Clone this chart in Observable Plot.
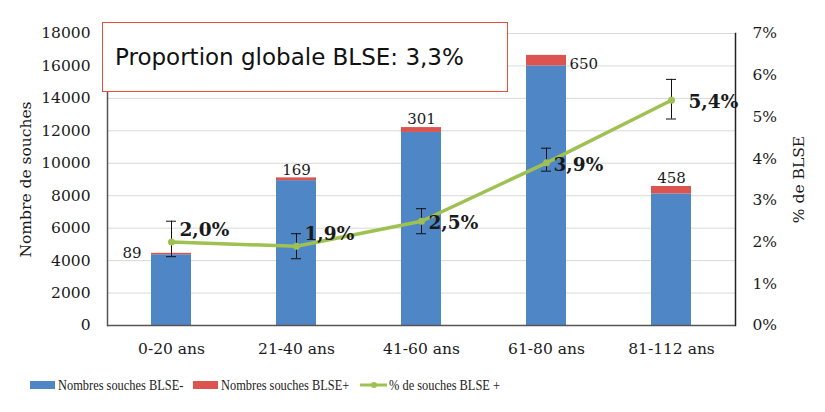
<!DOCTYPE html>
<html><head><meta charset="utf-8">
<script src="https://cdn.jsdelivr.net/npm/d3@7"></script>
<script src="https://cdn.jsdelivr.net/npm/@observablehq/plot@0.6"></script>
<style>
body{margin:0;background:#fff;}
#wrap{position:relative;width:825px;height:412px;overflow:hidden;}
#box{position:absolute;left:102px;top:22px;width:404px;height:68px;border:1.5px solid #e8503a;background:#fff;font-family:"DejaVu Sans",sans-serif;font-size:23px;color:#111;box-sizing:content-box;}
#box span{position:absolute;left:12px;top:21px;}
#legend{position:absolute;top:376px;left:0;width:825px;height:20px;font-family:"Liberation Serif",serif;font-size:15.5px;color:#222;}
.li{position:absolute;top:0;display:flex;align-items:center;white-space:nowrap;}
.sw{display:inline-block;width:25px;height:8px;margin-right:3px;}
.tx{display:inline-block;transform:scaleX(0.8);transform-origin:left center;}
</style></head><body>
<div id="wrap"><div id="chart"></div>
<div id="box"><span>Proportion globale BLSE: 3,3%</span></div>
<div id="legend"></div></div>
<script>
const categories = ["0-20 ans","21-40 ans","41-60 ans","61-80 ans","81-112 ans"];
const blseNeg = [4360, 8930, 11900, 16000, 8110];
const blsePos = [89, 169, 301, 650, 458];
const pct = [2.0, 1.9, 2.5, 3.9, 5.4];
const errLow = [1.65, 1.6, 2.2, 3.7, 4.95];
const errHigh = [2.5, 2.2, 2.8, 4.25, 5.9];
const pctLabels = ["2,0%","1,9%","2,5%","3,9%","5,4%"];
const leftTicks = [0,2000,4000,6000,8000,10000,12000,14000,16000,18000];
const rightTicks = [0,1,2,3,4,5,6,7];
const seriesNames = ["Nombres souches BLSE-","Nombres souches BLSE+","% de souches BLSE +"];
const colors = ["#4f86c6","#dc5450","#9ec151"];

const K = 18000/7;
const stack = [];
categories.forEach((c,i)=>stack.push({cat:c, series:seriesNames[0], value:blseNeg[i]}));
categories.forEach((c,i)=>stack.push({cat:c, series:seriesNames[1], value:blsePos[i]}));
const rows = categories.map((c,i)=>({cat:c, neg:blseNeg[i], pos:blsePos[i], total:blseNeg[i]+blsePos[i], p:pct[i]*K, lo:errLow[i]*K, hi:errHigh[i]*K, lab:pctLabels[i], i}));

const plot = Plot.plot({
  width:825, height:360,
  marginLeft:107, marginRight:90, marginTop:33, marginBottom:35,
  style:{fontFamily:"DejaVu Serif", fontSize:"15px", color:"#1a1a1a", background:"transparent"},
  x:{domain:categories, paddingInner:0.68, paddingOuter:0.34, label:null},
  y:{domain:[0,18000], nice:false},
  color:{domain:seriesNames.slice(0,2), range:colors.slice(0,2)},
  marks:[
    Plot.gridY(leftTicks, {stroke:"#d9d9d9", strokeOpacity:1}),
    Plot.barY(stack, {x:"cat", y:"value", fill:"series"}),
    Plot.ruleY([0], {stroke:"#555", strokeWidth:1.5}),
    Plot.frame({anchor:"left", stroke:"#555", strokeWidth:1.5}),
    Plot.frame({anchor:"right", stroke:"#222", strokeWidth:1.5}),
    Plot.ruleX(rows, {x:"cat", y1:"lo", y2:"hi", stroke:"#111", strokeWidth:1}),
    Plot.tickY(rows, {x:"cat", y:"lo", stroke:"#111", insetLeft:15, insetRight:15}),
    Plot.tickY(rows, {x:"cat", y:"hi", stroke:"#111", insetLeft:15, insetRight:15}),
    Plot.line(rows, {x:"cat", y:"p", stroke:colors[2], strokeWidth:3.5}),
    Plot.dot(rows, {x:"cat", y:"p", fill:colors[2], r:3.5}),
    Plot.text(rows.filter(d=>d.i===0), {x:"cat", y:"total", text:d=>String(d.pos), textAnchor:"end", dx:-30, fontSize:15, fill:"#1a1a1a"}),
    Plot.text(rows.filter(d=>d.i===1||d.i===2||d.i===4), {x:"cat", y:"total", text:d=>String(d.pos), dy:-8, fontSize:15, fill:"#1a1a1a"}),
    Plot.text(rows.filter(d=>d.i===3), {x:"cat", y:"total", text:d=>String(d.pos), textAnchor:"start", dx:23, dy:9, fontSize:15, fill:"#1a1a1a"}),
    Plot.text(rows.filter(d=>d.i<2), {x:"cat", y:"p", text:"lab", textAnchor:"start", dx:8, dy:-12, fontSize:18.5, fontWeight:"bold", fill:"#1a1a1a"}),
    Plot.text(rows.filter(d=>d.i===2||d.i===3), {x:"cat", y:"p", text:"lab", textAnchor:"start", dx:7, dy:2, fontSize:18.5, fontWeight:"bold", fill:"#1a1a1a"}),
    Plot.text(rows.filter(d=>d.i===4), {x:"cat", y:"p", text:"lab", textAnchor:"start", dx:17, dy:2, fontSize:18.5, fontWeight:"bold", fill:"#1a1a1a"}),
    Plot.axisY(leftTicks, {anchor:"left", tickSize:0, tickPadding:17, tickFormat:d=>String(d), label:"Nombre de souches", labelArrow:"none", labelAnchor:"center", labelOffset:88, fontSize:15.5}),
    Plot.axisY(rightTicks.map(v=>v*K), {anchor:"right", tickSize:0, tickPadding:17, tickFormat:d=>Math.round(d/K)+"%", label:"% de BLSE", labelArrow:"none", labelAnchor:"center", labelOffset:68, fontSize:15.5}),
    Plot.axisX({tickSize:0, tickPadding:17, label:null, fontSize:15.5})
  ]
});
document.getElementById("chart").appendChild(plot);

const lg = document.getElementById("legend");
const xs = [30, 193, 360];
seriesNames.forEach((n,i)=>{
  const d = document.createElement("div");
  d.className="li"; d.style.left = xs[i]+"px";
  if(i<2){
    d.innerHTML = `<span class="sw" style="background:${colors[i]}"></span><span class="tx">${n}</span>`;
  } else {
    d.innerHTML = `<svg width="28" height="10" style="margin-right:1px"><line x1="0" y1="5" x2="27" y2="5" stroke="${colors[2]}" stroke-width="3"/><circle cx="14" cy="5" r="3" fill="${colors[2]}"/></svg><span class="tx">${n}</span>`;
  }
  lg.appendChild(d);
});
</script>
</body></html>
